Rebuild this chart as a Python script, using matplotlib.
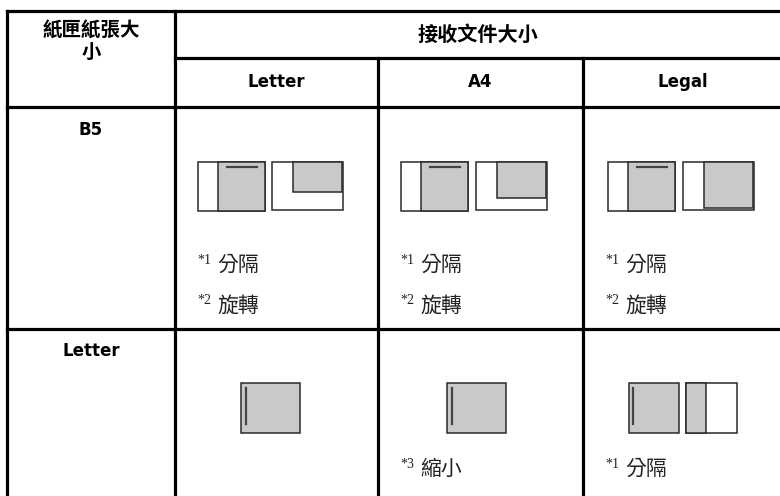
import matplotlib
matplotlib.use("Agg")
import matplotlib.pyplot as plt
from matplotlib.patches import Rectangle

# ---------------- data ----------------
corner_label = ["紙匣紙張大", "小"]
header_label = "接收文件大小"
columns = ["Letter", "A4", "Legal"]
rows = ["B5", "Letter"]
# footnote texts per row / column
notes = [
    [[("*1", "分隔"), ("*2", "旋轉")], [("*1", "分隔"), ("*2", "旋轉")], [("*1", "分隔"), ("*2", "旋轉")]],
    [[], [("*3", "縮小")], [("*1", "分隔")]],
]
# B5 row: rotated-view gray height (px) per column
b5_rot_gray_h = [30, 36, 46]

# ---------------- layout ----------------
W, H = 780, 496
fig = plt.figure(figsize=(W / 100, H / 100), dpi=100)
ax = fig.add_axes([0, 0, 1, 1])
ax.set_xlim(0, W)
ax.set_ylim(H, 0)
ax.axis("off")

x_left, x_c1 = 7, 175
col_left = [175, 378, 583]
col_center = [276.5, 480.5, 683]
y_top, y_h1, y_h2, y_r1 = 11, 58, 107, 329

LW = 2.3
K = "black"
def hline(y, x0, x1):
    ax.plot([x0, x1], [y, y], color=K, lw=LW, solid_capstyle="projecting")
def vline(x, y0, y1):
    ax.plot([x, x], [y0, y1], color=K, lw=LW, solid_capstyle="projecting")

hline(y_top, x_left, W + 5)
hline(y_h1, x_c1, W + 5)
hline(y_h2, x_left, W + 5)
hline(y_r1, x_left, W + 5)
vline(x_left, y_top, H + 5)
vline(x_c1, y_top, H + 5)
vline(col_left[1], y_h1, H + 5)
vline(col_left[2], y_h1, H + 5)

CJK = ["Noto Sans CJK TC", "DejaVu Sans"]
ax.text((x_left + x_c1) / 2, 30, corner_label[0], ha="center", va="center",
        fontsize=14, family=CJK, fontweight="bold")
ax.text((x_left + x_c1) / 2, 52, corner_label[1], ha="center", va="center",
        fontsize=14, family=CJK, fontweight="bold")
ax.text((col_left[0] + 780) / 2, 34, header_label, ha="center", va="center",
        fontsize=14.5, family=CJK, fontweight="bold")
for i, c in enumerate(columns):
    ax.text(col_center[i], 82, c, ha="center", va="center", fontsize=12,
            family="DejaVu Sans", fontweight="bold")
ax.text((x_left + x_c1) / 2, 130, rows[0], ha="center", va="center",
        fontsize=12, family="DejaVu Sans", fontweight="bold")
ax.text((x_left + x_c1) / 2, 351, rows[1], ha="center", va="center",
        fontsize=12, family="DejaVu Sans", fontweight="bold")

GRAY = "#c9c9c9"
EDGE = "#2a2a2a"
def rect(x0, y0, x1, y1, fc, ec=EDGE, lw=1.1, z=2):
    ax.add_patch(Rectangle((x0, y0), x1 - x0, y1 - y0, facecolor=fc, edgecolor=ec, lw=lw, zorder=z))

# ---- B5 row diagrams ----
b5_off1 = [23, 23, 25]
b5_off2 = [97, 98, 100]
for i, L in enumerate(col_left):
    a = L + b5_off1[i]
    rect(a, 162, a + 67, 211, "white")
    rect(a + 20, 162, a + 67, 210.5, GRAY)
    ax.plot([a + 29, a + 59], [167, 167], color="#444444", lw=1.6, zorder=3)
    b = L + b5_off2[i]
    rect(b, 162, b + 71, 210, "white")
    rect(b + 21, 162, b + 70, 162 + b5_rot_gray_h[i], GRAY)

# ---- Letter row diagrams ----
lt_off = [66, 69]
for i in range(2):
    a = col_left[i] + lt_off[i]
    rect(a, 383, a + 59, 433, GRAY)
    ax.plot([a + 5, a + 5], [388, 424], color="#444444", lw=1.6, zorder=3)
L = col_left[2]
a = L + 46
rect(a, 383, a + 50, 433, GRAY)
ax.plot([a + 4, a + 4], [388, 424], color="#444444", lw=1.6, zorder=3)
b = L + 103
rect(b, 383, b + 51, 433, "white")
rect(b, 383, b + 20, 433, GRAY)

# ---- footnotes ----
row_note_y = [[265, 306], [469]]
for r in range(2):
    for i, L in enumerate(col_left):
        for k, (mark, txt) in enumerate(notes[r][i]):
            y = row_note_y[r][k]
            ax.text(L + 22, y - 5, mark, ha="left", va="center", fontsize=10,
                    family="Liberation Serif", color="#222222")
            ax.text(L + 42, y, txt, ha="left", va="center", fontsize=15,
                    family=CJK, fontweight="light", color="#222222")

fig.savefig("out.png", dpi=100)
